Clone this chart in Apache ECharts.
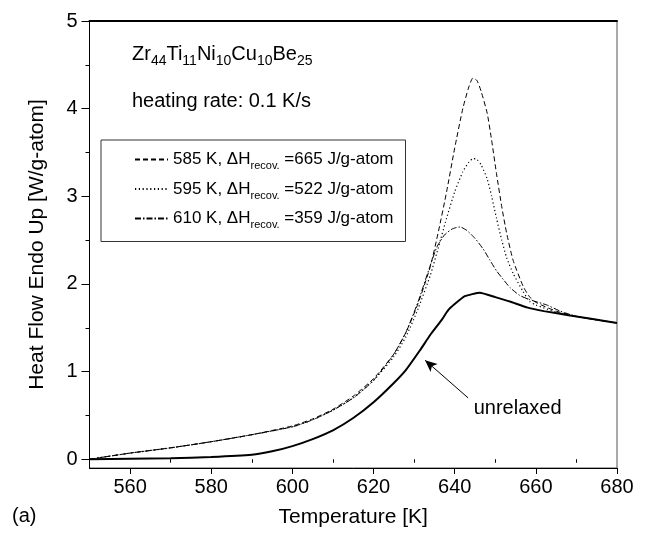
<!DOCTYPE html>
<html>
<head>
<meta charset="utf-8">
<script src="https://cdn.jsdelivr.net/npm/echarts@6/dist/echarts.min.js"></script>
<style>html,body{margin:0;padding:0;background:#fff}#c{width:646px;height:533px}</style>
</head>
<body>
<div id="c"></div>
<script>
// ---- data ----
var xTickLabels = [560, 580, 600, 620, 640, 660, 680];
var xMinorTicks = [550, 570, 590, 610, 630, 650, 670];
var yTickLabels = [0, 1, 2, 3, 4, 5];
var yMinorTicks = [0.5, 1.5, 2.5, 3.5, 4.5];

var tUnrelaxed = [550,560,570,580,590,595,600,605,610,615,620,625,628,631.4,634,636.8,638.4,640,642.5,646.2,650,653.6,658,662,668.4,674,680];
var hUnrelaxed = [0.0,0.005,0.012,0.025,0.05,0.09,0.15,0.23,0.33,0.47,0.65,0.87,1.02,1.24,1.42,1.59,1.70,1.77,1.86,1.90,1.85,1.80,1.73,1.69,1.64,1.60,1.555];

var t585 = [550,560,570,580,590,600,605,610,615,620,625,628,631,634,636,638,640,642,643.5,644.5,645.5,646.5,648,649.1,650.3,651.6,652.8,654.4,656.9,658.5,660,665,670,675,680];
var h585 = [0.0,0.07,0.13,0.2,0.28,0.38,0.46,0.57,0.72,0.92,1.2,1.45,1.78,2.2,2.6,3.05,3.55,4.0,4.25,4.35,4.32,4.2,3.95,3.64,3.26,2.88,2.58,2.27,1.97,1.85,1.79,1.69,1.63,1.59,1.555];

var t595 = t585;
var h595 = [0.0,0.07,0.13,0.2,0.28,0.37,0.45,0.56,0.7,0.9,1.17,1.4,1.72,2.1,2.42,2.75,3.05,3.28,3.39,3.43,3.42,3.36,3.2,3.0,2.75,2.5,2.3,2.12,1.91,1.8,1.76,1.68,1.63,1.59,1.555];

var t610 = [550,560,570,580,590,600,605,610,615,620,625,628,631,633.9,635.6,637.5,639.5,641.3,643,645,647,648.7,650.3,652,653.6,656,658.5,662.7,666,670,675,680];
var h610 = [0.0,0.07,0.13,0.2,0.28,0.37,0.45,0.56,0.7,0.9,1.2,1.45,1.8,2.2,2.42,2.56,2.63,2.65,2.61,2.52,2.4,2.27,2.15,2.05,1.96,1.87,1.82,1.76,1.69,1.63,1.59,1.555];

var seriesNames = ['585 K', '595 K', '610 K'];
var legendValues = ['665', '522', '359'];

var arrowFrom = [643.3, 0.70];
var arrowTo = [632.7, 1.13];
var unrelaxedLabelAt = [655.5, 0.58];

function zip(t, h) { return t.map(function (x, i) { return [x, h[i]]; }); }

var FONT = 'Liberation Sans, Arial, Helvetica, sans-serif';
var chart = echarts.init(document.getElementById('c'), null, {renderer: 'canvas'});

var option = {
  animation: false,
  backgroundColor: '#fff',
  grid: {left: 89.5, right: 29, top: 21, bottom: 65, show: true, borderColor: '#555', borderWidth: 1, backgroundColor: 'transparent'},
  xAxis: [{
    type: 'value', min: 550, max: 680,
    name: 'Temperature [K]', nameLocation: 'middle', nameGap: 39,
    nameTextStyle: {fontSize: 21, fontFamily: FONT, color: '#000'},
    axisLine: {show: true, onZero: false, lineStyle: {color: '#000', width: 1}},
    axisTick: {show: true, length: 6, customValues: xTickLabels, lineStyle: {color: '#000'}},
    axisLabel: {show: true, margin: 9, fontSize: 20, fontFamily: FONT, color: '#000', customValues: xTickLabels},
    splitLine: {show: false}
  }, {
    type: 'value', min: 550, max: 680, position: 'bottom',
    axisLine: {show: false},
    axisTick: {show: true, length: 3.5, customValues: xMinorTicks, lineStyle: {color: '#000'}},
    axisLabel: {show: false},
    splitLine: {show: false}
  }, {
    type: 'value', min: 550, max: 680, position: 'top',
    axisLine: {show: true, onZero: false, lineStyle: {color: '#000', width: 2}},
    axisTick: {show: false},
    axisLabel: {show: false},
    splitLine: {show: false}
  }],
  yAxis: [{
    type: 'value', min: -0.1, max: 5,
    name: 'Heat Flow Endo Up [W/g-atom]', nameLocation: 'middle', nameGap: 42,
    nameTextStyle: {fontSize: 21, fontFamily: FONT, color: '#000'},
    axisLine: {show: true, onZero: false, lineStyle: {color: '#000', width: 1}},
    axisTick: {show: true, length: 8, customValues: yTickLabels, lineStyle: {color: '#000'}},
    axisLabel: {show: true, margin: 12, fontSize: 20, fontFamily: FONT, color: '#000', customValues: yTickLabels},
    splitLine: {show: false}
  }, {
    type: 'value', min: -0.1, max: 5, position: 'left',
    axisLine: {show: false},
    axisTick: {show: true, length: 4, customValues: yMinorTicks, lineStyle: {color: '#000'}},
    axisLabel: {show: false},
    splitLine: {show: false}
  }],
  legend: {
    orient: 'vertical', left: 101, top: 140,
    padding: [11, 12, 11, 33],
    itemWidth: 33, itemHeight: 14, itemGap: 9,
    borderColor: '#333', borderWidth: 1,
    data: seriesNames,
    itemStyle: {opacity: 0, borderWidth: 0},
    textStyle: {
      fontSize: 17, fontFamily: FONT, color: '#000',
      rich: {
        m: {fontSize: 17, lineHeight: 24, verticalAlign: 'middle', fontFamily: FONT, color: '#000'},
        s: {fontSize: 11, lineHeight: 11, verticalAlign: 'bottom', fontFamily: FONT, color: '#000'}
      }
    },
    formatter: function (name) {
      var i = seriesNames.indexOf(name);
      return '{m|' + name + ', ΔH}{s|recov.}{m| =' + legendValues[i] + ' J/g-atom}';
    }
  },
  graphic: [
    {
      type: 'text', left: 132, top: 44,
      style: {
        text: '{m|Zr}{s|44}{m|Ti}{s|11}{m|Ni}{s|10}{m|Cu}{s|10}{m|Be}{s|25}',
        rich: {
          m: {fontSize: 20, lineHeight: 28, verticalAlign: 'middle', fontFamily: FONT, fill: '#000'},
          s: {fontSize: 14, lineHeight: 14, verticalAlign: 'bottom', fontFamily: FONT, fill: '#000'}
        }
      }
    },
    {
      type: 'text', left: 132, top: 91,
      style: {text: 'heating rate: 0.1 K/s', fontSize: 20, fontFamily: FONT, fill: '#000'}
    },
    {
      type: 'text', left: 12, top: 506,
      style: {text: '(a)', fontSize: 20, fontFamily: FONT, fill: '#000'}
    }
  ],
  series: [
    {
      name: '585 K', type: 'line', data: zip(t585, h585), symbol: 'none', smooth: 0.2,
      lineStyle: {color: '#000', width: 1, type: [5, 3]}, itemStyle: {color: '#000'}
    },
    {
      name: '595 K', type: 'line', data: zip(t595, h595), symbol: 'none', smooth: 0.2,
      lineStyle: {color: '#000', width: 1.2, type: [1.2, 2.6]}, itemStyle: {color: '#000'}
    },
    {
      name: '610 K', type: 'line', data: zip(t610, h610), symbol: 'none', smooth: 0.2,
      lineStyle: {color: '#000', width: 1, type: [6, 2, 1.5, 2]}, itemStyle: {color: '#000'}
    },
    {
      name: 'unrelaxed', type: 'line', data: zip(tUnrelaxed, hUnrelaxed), symbol: 'none', smooth: 0.15,
      lineStyle: {color: '#000', width: 2}, itemStyle: {color: '#000'}, z: 3,
      markLine: {
        silent: true, animation: false,
        symbol: ['none', 'arrow'], symbolSize: [8, 12],
        lineStyle: {color: '#000', width: 1, type: 'solid'},
        label: {show: false},
        data: [[{coord: arrowFrom}, {coord: arrowTo}]]
      },
      markPoint: {
        silent: true, symbol: 'circle', symbolSize: 0,
        label: {show: true, position: 'inside', formatter: 'unrelaxed', fontSize: 20, fontFamily: FONT, color: '#000'},
        data: [{coord: unrelaxedLabelAt}]
      }
    }
  ]
};
chart.setOption(option);
</script>
</body>
</html>
